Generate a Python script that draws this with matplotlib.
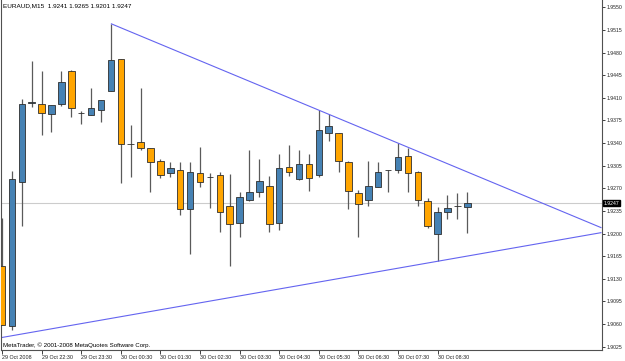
import matplotlib.pyplot as plt
import numpy as np

W, H, DPI = 625, 361, 100
FONT = "Liberation Sans"

BULL = "#4682b4"
BEAR = "#ffa500"
EDGE = "#2e2e2e"
WICK = "#5a5a5a"
TREND = "#6464f0"

# EURAUD M15, one bar per 15 minutes starting 29 Oct 2008 21:30
opens = [1.9150, 1.9057, 1.9279, 1.9402, 1.9400, 1.9385, 1.9400, 1.9451, 1.9386, 1.9384,
         1.9392, 1.9421, 1.9470, 1.9339, 1.9341, 1.9332, 1.9313, 1.9293, 1.9299, 1.9238,
         1.9293, 1.9287, 1.9290, 1.9242, 1.9217, 1.9252, 1.9265, 1.9274, 1.9217, 1.9303,
         1.9284, 1.9308, 1.9290, 1.9355, 1.9355, 1.9311, 1.9262, 1.9252, 1.9272, 1.9298,
         1.9298, 1.9320, 1.9295, 1.9250, 1.9199, 1.9234, 1.9242, 1.9241]
highs = [1.9224, 1.9297, 1.9408, 1.9467, 1.9451, 1.9399, 1.9452, 1.9453, 1.9390, 1.9426,
         1.9407, 1.9525, 1.9470, 1.9368, 1.9426, 1.9332, 1.9316, 1.9310, 1.9311, 1.9311,
         1.9334, 1.9294, 1.9296, 1.9292, 1.9264, 1.9329, 1.9315, 1.9289, 1.9323, 1.9337,
         1.9329, 1.9323, 1.9391, 1.9385, 1.9355, 1.9312, 1.9267, 1.9312, 1.9310, 1.9299,
         1.9340, 1.9332, 1.9297, 1.9255, 1.9241, 1.9260, 1.9262, 1.9265]
lows = [1.9058, 1.9051, 1.9211, 1.9396, 1.9352, 1.9357, 1.9398, 1.9381, 1.9370, 1.9383,
        1.9373, 1.9420, 1.9278, 1.9288, 1.9330, 1.9265, 1.9286, 1.9288, 1.9229, 1.9169,
        1.9272, 1.9239, 1.9202, 1.9149, 1.9195, 1.9250, 1.9257, 1.9203, 1.9205, 1.9289,
        1.9283, 1.9266, 1.9287, 1.9344, 1.9296, 1.9238, 1.9194, 1.9243, 1.9272, 1.9265,
        1.9294, 1.9264, 1.9242, 1.9209, 1.9157, 1.9222, 1.9222, 1.9201]
closes = [1.9058, 1.9284, 1.9401, 1.9403, 1.9386, 1.9399, 1.9435, 1.9395, 1.9386, 1.9395,
          1.9407, 1.9469, 1.9338, 1.9339, 1.9333, 1.9311, 1.9291, 1.9301, 1.9238, 1.9296,
          1.9279, 1.9287, 1.9234, 1.9214, 1.9257, 1.9264, 1.9282, 1.9214, 1.9301, 1.9296,
          1.9307, 1.9286, 1.9361, 1.9367, 1.9313, 1.9266, 1.9246, 1.9274, 1.9296, 1.9298,
          1.9318, 1.9293, 1.9252, 1.9212, 1.9233, 1.9239, 1.9242, 1.9247]

time_labels = ["29 Oct 2008", "29 Oct 22:30", "29 Oct 23:30", "30 Oct 00:30", "30 Oct 01:30",
               "30 Oct 02:30", "30 Oct 03:30", "30 Oct 04:30", "30 Oct 05:30", "30 Oct 06:30",
               "30 Oct 07:30", "30 Oct 08:30"]
price_ticks = [1.9025 + 0.0035 * k for k in range(16)]

# trendlines: two anchor points each (bar index, price)
upper_bars, upper_prices = [11, 40], [1.9525, 1.9340]
lower_bars, lower_prices = [0, 44], [1.9039, 1.9157]

symbol = "EURAUD,M15"
last_price = closes[-1]


def px(x):
    return x / W


def py(y):
    return 1 - y / H


def ray(ax, bars, prices, x_end, from_left=False):
    slope = (prices[1] - prices[0]) / (bars[1] - bars[0])
    x0 = ax.get_xlim()[0] if from_left else bars[0]
    xs = np.array([x0, x_end])
    ax.plot(xs, prices[0] + slope * (xs - bars[0]), color=TREND, lw=0.8, solid_capstyle="butt")


def main():
    plt.rcParams.update({"font.family": FONT, "font.size": 4})
    fig = plt.figure(figsize=(W / DPI, H / DPI), dpi=DPI)
    ax = fig.add_axes([px(1.5), py(350), px(600), 350 / H])

    o, h, l, c = (np.asarray(a) for a in (opens, highs, lows, closes))
    x = np.arange(len(o))
    up = c >= o
    colors = np.where(up, BULL, BEAR)

    ax.axhline(last_price, color="#cccccc", lw=0.8, zorder=1)
    ax.vlines(x, l, h, color=WICK, lw=0.9, zorder=2)
    ax.bar(x, np.abs(c - o), bottom=np.minimum(o, c), width=0.66, color=colors,
           edgecolor=EDGE, linewidth=0.6, zorder=3)

    xlim = (-0.05, 60.56)
    ax.set_xlim(*xlim)
    ax.set_ylim(1.90196, 1.95616)
    ray(ax, upper_bars, upper_prices, xlim[1])
    ray(ax, lower_bars, lower_prices, xlim[1], from_left=True)

    ax.spines["top"].set_visible(False)
    for s in ("left", "right", "bottom"):
        ax.spines[s].set_color("#505050")
        ax.spines[s].set_linewidth(0.8)

    ax.yaxis.tick_right()
    ax.set_yticks(price_ticks)
    ax.set_yticklabels([f"{p:.4f}" for p in price_ticks], fontsize=3.7)
    ax.tick_params(axis="y", length=2, width=0.6, pad=1.4, colors="#202020")

    ax.set_xticks(np.arange(len(time_labels)) * 4)
    ax.set_xticklabels(time_labels, fontsize=3.9, ha="left")
    ax.tick_params(axis="x", length=3, width=0.6, pad=0.8, colors="#202020")

    ax.text(1.004, last_price, f"{last_price:.4f}", transform=ax.get_yaxis_transform(),
            fontsize=3.7, color="white", va="center", ha="left",
            bbox=dict(boxstyle="square,pad=0.15", fc="black", ec="black"))

    fig.text(px(3), py(6), f"{symbol}  {opens[-1]:.4f} {highs[-1]:.4f} {lows[-1]:.4f} {closes[-1]:.4f}",
             fontsize=4.6, va="center", ha="left")
    fig.text(px(3), py(345), "MetaTrader, \u00a9 2001-2008 MetaQuotes Software Corp.",
             fontsize=4.4, va="center", ha="left")

    fig.savefig("out.png", dpi=DPI)
    plt.close(fig)


if __name__ == "__main__":
    main()
